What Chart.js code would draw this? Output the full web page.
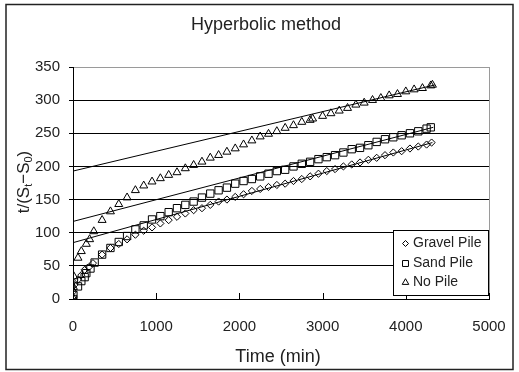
<!DOCTYPE html>
<html>
<head>
<meta charset="utf-8">
<script src="https://cdn.jsdelivr.net/npm/chart.js@4.4.1/dist/chart.umd.min.js"></script>
<style>
  html, body { margin: 0; padding: 0; background: #fff; }
  canvas { display: block; }
</style>
</head>
<body>
<canvas id="c" width="519" height="372"></canvas>
<script>
// ---- Data ----
const chartTitle = "Hyperbolic method";
const xAxisTitle = "Time (min)";
const seriesNames = ["Gravel Pile", "Sand Pile", "No Pile"];

const xTicks = [0, 1000, 2000, 3000, 4000, 5000];
const yTicks = [0, 50, 100, 150, 200, 250, 300, 350];

const regularTimes = [350, 450, 550, 650, 750, 850, 950, 1050, 1150, 1250,
  1350, 1450, 1550, 1650, 1750, 1850, 1950, 2050, 2150, 2250,
  2350, 2450, 2550, 2650, 2750, 2850, 2950, 3050, 3150, 3250,
  3350, 3450, 3550, 3650, 3750, 3850, 3950, 4050, 4150, 4250];

// Gravel Pile (diamonds)
const gravelTime = [0, 15, 60, 100, 140, 190, 240].concat(regularTimes, [4310]);
const gravelValue = [11, 21, 29, 36, 44, 48, 54,
  67, 77, 83, 90, 97, 103, 108, 114, 119, 124,
  129, 134, 137, 142, 147, 150, 154, 158, 163, 166,
  169, 172, 174, 178, 181, 185, 189, 193, 196, 200,
  203, 206, 210, 213, 217, 221, 223, 227, 230, 233,
  236];

// Sand Pile (squares)
const sandTime = [0, 5, 60, 100, 140, 160, 210, 260].concat(regularTimes, [4300]);
const sandValue = [0, 6, 19, 27, 33, 39, 46, 55,
  67, 77, 86, 95, 105, 111, 120, 125, 131, 137,
  142, 147, 153, 159, 164, 168, 174, 178, 181, 185,
  189, 193, 195, 200, 204, 207, 211, 214, 217, 221,
  226, 228, 232, 237, 241, 244, 247, 250, 253, 257,
  259];

// No Pile (triangles)
const noPileTime = [0, 5, 10, 60, 100, 160, 200, 250,
  350, 450, 550, 650, 750, 850, 950, 1050, 1150, 1250,
  1350, 1450, 1550, 1650, 1750, 1850, 1950, 2050, 2150, 2250,
  2350, 2450, 2550, 2650, 2750, 2850, 2880,
  3000, 3100, 3200, 3300, 3400, 3500, 3600, 3700, 3800, 3900,
  4000, 4100, 4200, 4300, 4320];
const noPileValue = [2, 18, 34, 62, 72, 83, 90, 102,
  119, 132, 143, 153, 164, 171, 177, 182, 187, 191,
  197, 202, 207, 213, 217, 222, 227, 233, 239, 245,
  249, 253, 258, 262, 267, 270, 272,
  276, 280, 284, 288, 293, 296, 300, 303, 307, 309,
  313, 316, 318, 322, 323];

// Linear fits (hyperbolic method straight lines)
const gravelFitTime = [0, 4320];
const gravelFitValue = [85, 236];
const sandFitTime = [0, 4330];
const sandFitValue = [117, 259];
const noPileFitTime = [0, 4350];
const noPileFitValue = [193, 323];

// ---- Chart ----
const toPts = (ts, vs) => ts.map((t, i) => ({ x: t, y: vs[i] }));
const FONT = "'Liberation Sans', Arial, sans-serif";

function markerSet(label, ts, vs, style, r) {
  return {
    label: label,
    data: toPts(ts, vs),
    showLine: false,
    pointStyle: style,
    pointRadius: r,
    pointBorderWidth: 1,
    pointBorderColor: '#000',
    pointBackgroundColor: 'rgba(0,0,0,0)',
    borderColor: '#000',
    backgroundColor: 'rgba(0,0,0,0)'
  };
}
function fitSet(ts, vs) {
  return {
    label: '_fit',
    data: toPts(ts, vs),
    showLine: true,
    pointRadius: 0,
    borderWidth: 1,
    borderColor: '#000',
    backgroundColor: 'rgba(0,0,0,0)',
    fill: false
  };
}

const legendStyles = [
  { style: 'rectRot', r: 3 },
  { style: 'rect', r: 4.2 },
  { style: 'triangle', r: 3.8 }
];

const decor = {
  id: 'decor',
  beforeDatasetsDraw(chart) {
    const { ctx, chartArea: a } = chart;
    ctx.save();
    ctx.strokeStyle = '#9a9a9a';
    ctx.lineWidth = 1;
    ctx.beginPath();
    ctx.moveTo(Math.round(a.right) + 0.5, a.top);
    ctx.lineTo(Math.round(a.right) + 0.5, a.bottom);
    ctx.stroke();
    const xs = chart.scales.x;
    ctx.strokeStyle = '#000';
    xTicks.forEach(v => {
      if (v === 0) return;
      const px = Math.round(xs.getPixelForValue(v)) + 0.5;
      ctx.beginPath();
      ctx.moveTo(px, a.bottom);
      ctx.lineTo(px, a.bottom - 6);
      ctx.stroke();
    });
    ctx.restore();
  },
  afterDraw(chart) {
    const { ctx } = chart;
    ctx.save();
    ctx.font = '18px ' + FONT;
    ctx.textAlign = 'center';
    ctx.textBaseline = 'middle';
    ctx.fillStyle = '#222';
    ctx.fillText(chartTitle, 266, 25);
    ctx.fillText(xAxisTitle, 278, 357);

    ctx.translate(23, 182);
    ctx.rotate(-Math.PI / 2);
    const big = '17px ' + FONT, small = '11px ' + FONT;
    const parts = [
      { t: 't/(S', f: big, dy: 0 },
      { t: 't', f: small, dy: 3 },
      { t: '\u2212S', f: big, dy: 0 },
      { t: '0', f: small, dy: 3 },
      { t: ')', f: big, dy: 0 }
    ];
    let total = 0;
    parts.forEach(p => { ctx.font = p.f; p.w = ctx.measureText(p.t).width; total += p.w; });
    ctx.textAlign = 'left';
    ctx.textBaseline = 'alphabetic';
    let cx = -total / 2;
    parts.forEach(p => { ctx.font = p.f; ctx.fillText(p.t, cx, 6 + p.dy); cx += p.w; });
    ctx.setTransform(1, 0, 0, 1, 0, 0);

    ctx.fillStyle = '#fff';
    ctx.fillRect(393.5, 230.5, 95, 65);
    ctx.strokeStyle = '#000';
    ctx.lineWidth = 1;
    ctx.strokeRect(393.5, 230.5, 95, 65);
    const rows = [243, 263, 282];
    ctx.font = '14px ' + FONT;
    ctx.textAlign = 'left';
    ctx.textBaseline = 'middle';
    seriesNames.forEach((name, i) => {
      ctx.fillStyle = '#fff';
      ctx.strokeStyle = '#000';
      ctx.lineWidth = 1;
      Chart.helpers.drawPoint(ctx, {
        pointStyle: legendStyles[i].style,
        radius: legendStyles[i].r,
        rotation: 0,
        borderWidth: 1
      }, 405.5, rows[i] + 0.5);
      ctx.fillStyle = '#222';
      ctx.fillText(name, 413, rows[i]);
    });

    ctx.strokeStyle = '#222';
    ctx.lineWidth = 1.5;
    ctx.strokeRect(6, 4.5, 507, 365);
    ctx.restore();
  }
};

new Chart(document.getElementById('c'), {
  type: 'scatter',
  data: {
    datasets: [
      fitSet(gravelFitTime, gravelFitValue),
      fitSet(sandFitTime, sandFitValue),
      fitSet(noPileFitTime, noPileFitValue),
      markerSet(seriesNames[0], gravelTime, gravelValue, 'rectRot', 3.6),
      markerSet(seriesNames[1], sandTime, sandValue, 'rect', 5.2),
      markerSet(seriesNames[2], noPileTime, noPileValue, 'triangle', 4.6)
    ]
  },
  options: {
    responsive: false,
    devicePixelRatio: 1,
    animation: false,
    events: [],
    layout: { padding: { left: 0, right: 30, top: 67, bottom: 0 } },
    plugins: { legend: { display: false }, tooltip: { enabled: false }, title: { display: false } },
    scales: {
      x: {
        type: 'linear',
        min: 0, max: 5000,
        afterBuildTicks: s => { s.ticks = xTicks.map(v => ({ value: v })); },
        afterFit: s => { s.height = 73; },
        grid: { display: false },
        border: { display: true, color: '#000', width: 1 },
        ticks: { color: '#222', font: { family: FONT, size: 15 }, padding: 11, maxRotation: 0,
                 callback: v => String(v) }
      },
      y: {
        type: 'linear',
        min: 0, max: 350,
        afterBuildTicks: s => { s.ticks = yTicks.map(v => ({ value: v })); },
        afterFit: s => { s.width = 73; },
        grid: {
          color: c => (c.tick && c.tick.value === 350) ? '#9a9a9a' : '#000',
          lineWidth: 1,
          drawTicks: true,
          tickLength: 4,
          tickColor: '#000'
        },
        border: { display: true, color: '#000', width: 1 },
        ticks: { color: '#222', font: { family: FONT, size: 15 }, padding: 9,
                 callback: v => String(v) }
      }
    }
  },
  plugins: [decor]
});
</script>
</body>
</html>
